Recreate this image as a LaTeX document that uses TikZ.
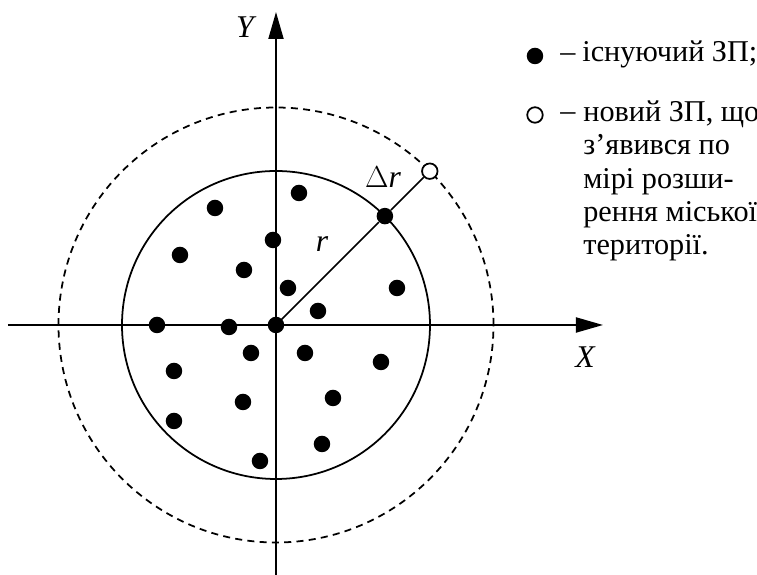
\documentclass[tikz,border=0pt]{standalone}
\usepackage{fontspec}
\setmainfont{Liberation Serif}
\usepackage{tikz}
\usetikzlibrary{arrows.meta, positioning}
\tikzset{
  axis/.style={-{Triangle[length=5.4mm, width=3mm]}, line width=1.1pt},
  zpdot/.style={circle, fill=black, inner sep=0pt, minimum size=3.3mm},
  newzp/.style={circle, draw=black, fill=white, inner sep=0pt,
    minimum size=3.1mm, line width=1pt},
  ring/.style={line width=1pt},
  dashring/.style={line width=1pt, dash pattern=on 4pt off 3pt},
  legtext/.style={font=\fontsize{17.2}{19}\selectfont, inner sep=0pt},
  axlabel/.style={font=\fontsize{18}{19}\selectfont\itshape, inner sep=0pt}
}

\begin{document}
\begin{tikzpicture}
  \useasboundingbox (-5.52,-5.0) rectangle (9.62,6.5);
  % axes
  \coordinate (xs) at (-5.36,0);
  \coordinate (xe) at (6.54,0);
  \coordinate (ys) at (0,-5.0);
  \coordinate (ye) at (0,6.26);
  \draw[axis] (xs) -- (xe);
  \draw[axis] (ys) -- (ye);
  \node[axlabel] (xlab) at (6.18,-0.64) {X};
  \node[axlabel] (ylab) at (-0.62,5.96) {Y};
  % city boundary before and after growth
  \coordinate (o) at (0,0);
  \draw[ring] (o) circle (3.08);
  \draw[dashring] (o) circle (4.35);
  % radius
  \node[zpdot] (p) at (45:3.08) {};
  \node[newzp] (nz) at (45:4.35) {};
  \draw[line width=0.9pt] (o) -- (p) -- (nz);
  \node[axlabel] (rlab) at (0.92,1.62) {r};
  \node[axlabel, font=\fontsize{18}{19}\selectfont] (drlab) at (2.14,2.96) {$\Delta$\textit{r}};
  % existing points
  \node[zpdot] (c) at (o) {};
  \foreach \x/\y [count=\i] in {0.46/2.64, -1.22/2.34, -0.06/1.70, -1.92/1.40,
      -0.64/1.10, 0.24/0.74, 0.84/0.28, 2.42/0.74, -2.38/0, -0.94/-0.04,
      -0.50/-0.56, 0.58/-0.56, 2.10/-0.74, -2.04/-0.92, -0.66/-1.54,
      1.14/-1.46, -2.04/-1.92, 0.92/-2.38, -0.32/-2.72}
    \node[zpdot] (d\i) at (\x,\y) {};
  % legend
  \node[zpdot] (leg1) at (5.18,5.38) {};
  \node[legtext, anchor=base west] (leg1dash) at (5.68,5.26) {–};
  \node[legtext, anchor=base west] (leg1txt) at (6.12,5.26) {існуючий ЗП;};
  \node[newzp] (leg2) at (5.18,4.2) {};
  \node[legtext, anchor=base west] (leg2dash) at (5.68,4.08) {–};
  \node[legtext, anchor=base west, align=left] (leg2txt) at (6.14,1.40)
    {новий ЗП, що\\з’явився по\\мірі розши-\\рення міської\\території.};
\end{tikzpicture}
\end{document}
